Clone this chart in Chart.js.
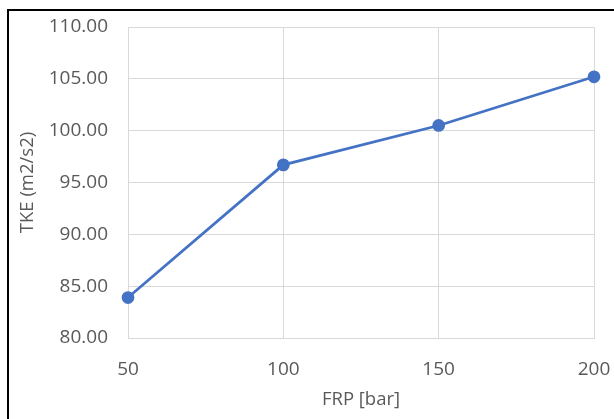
<!DOCTYPE html>
<html>
<head>
<meta charset="utf-8">
<script src="https://cdn.jsdelivr.net/npm/chart.js@4.4.0/dist/chart.umd.min.js"></script>
<style>
  html, body { margin: 0; padding: 0; background: #fff; overflow: hidden; }
  #wrap { position: relative; width: 614px; height: 419px; }
  #frame { position: absolute; left: 7px; top: 9px; right: -10px; bottom: -10px;
           border-left: 2px solid #000; border-top: 2px solid #000; pointer-events: none; }
  canvas { position: absolute; left: 0; top: 0; }
</style>
</head>
<body>
<div id="wrap">
  <canvas id="tkeChart" width="614" height="419"></canvas>
  <div id="frame"></div>
</div>
<script>
// Datos del gráfico
const frpValues = [50, 100, 150, 200];
const tkeValues = [83.9, 96.7, 100.5, 105.2];
const xTicks = [50, 100, 150, 200];
const yTicks = [80, 85, 90, 95, 100, 105, 110];

const gridColor = '#d9d9d9';
const textColor = '#595959';
const fontFamily = "'Open Sans', sans-serif";

const ctx = document.getElementById('tkeChart').getContext('2d');

new Chart(ctx, {
    type: 'scatter',
    data: {
        datasets: [{
            data: frpValues.map((x, i) => ({ x: x, y: tkeValues[i] })),
            showLine: true,
            clip: false,
            borderColor: '#4472c4',
            backgroundColor: '#4472c4',
            borderWidth: 2.75,
            pointRadius: 5,
            pointHoverRadius: 5,
            tension: 0
        }]
    },
    options: {
        responsive: false,
        animation: false,
        layout: { padding: { left: 0, right: 20, top: 27, bottom: 8 } },
        plugins: {
            legend: { display: false },
            tooltip: { enabled: false }
        },
        scales: {
            x: {
                type: 'linear',
                min: xTicks[0],
                max: xTicks[xTicks.length - 1],
                afterBuildTicks: (scale) => { scale.ticks = xTicks.map(v => ({ value: v })); },
                afterFit: (scale) => {
                    scale.height = 73;
                    scale.paddingLeft = 0;
                    scale.paddingRight = 0;
                },
                grid: { color: gridColor, lineWidth: 1, drawTicks: false },
                border: { color: gridColor },
                ticks: { color: textColor, padding: 20, font: { family: fontFamily, size: 19 } },
                title: {
                    display: true,
                    text: 'FRP [bar]',
                    color: textColor,
                    padding: { top: 0, bottom: 0 },
                    font: { family: fontFamily, size: 18.5 }
                }
            },
            y: {
                min: yTicks[0],
                max: yTicks[yTicks.length - 1],
                afterBuildTicks: (scale) => { scale.ticks = yTicks.map(v => ({ value: v })); },
                afterFit: (scale) => {
                    scale.width = 128;
                    scale.paddingTop = 0;
                    scale.paddingBottom = 0;
                },
                grid: { color: gridColor, lineWidth: 1, drawTicks: false },
                border: { color: gridColor },
                ticks: {
                    color: textColor,
                    padding: 20,
                    font: { family: fontFamily, size: 19 },
                    callback: (v) => Number(v).toFixed(2)
                },
                title: {
                    display: true,
                    text: 'TKE (m2/s2)',
                    color: textColor,
                    padding: { top: 17, bottom: 0 },
                    font: { family: fontFamily, size: 18.5 }
                }
            }
        }
    }
});
</script>
</body>
</html>
